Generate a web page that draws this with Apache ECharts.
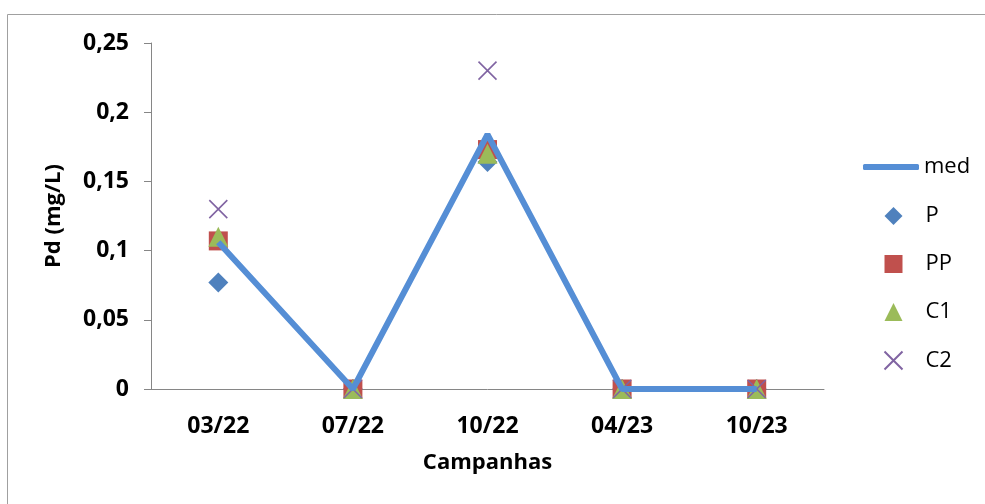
<!DOCTYPE html>
<html>
<head>
<meta charset="utf-8">
<script src="https://cdn.jsdelivr.net/npm/echarts@6/dist/echarts.min.js"></script>
<style>
  html, body { margin: 0; padding: 0; background: #fff; }
  #chart { width: 985px; height: 504px; }
</style>
</head>
<body>
<div id="chart"></div>
<script>
// campanhas (eixo x)
const campanhas = ['03/22', '07/22', '10/22', '04/23', '10/23']
// valores (mg/L)
const medValues = [0.106, 0, 0.184, 0, 0]
const pValues = [0.077, 0, 0.164, 0, 0]
const ppValues = [0.107, 0, 0.173, 0, 0]
const c1Values = [0.11, 0, 0.17, 0, 0]
const c2Values = [0.13, 0, 0.23, 0, 0]

const fontFamily = "'Open Sans', sans-serif"
const axisColor = '#868686'
const crossPath = 'path://M0,0L10,10M10,0L0,10'

const chart = echarts.init(document.getElementById('chart'))

const legendText = {
  fontFamily: fontFamily,
  fontSize: 22,
  lineHeight: 20,
  color: '#000'
}

const option = {
  animation: false,
  textStyle: { fontFamily: fontFamily },
  // moldura do gráfico
  graphic: [
    {
      type: 'rect',
      shape: { x: 7.5, y: 14.5, width: 1100, height: 1000 },
      style: { fill: 'none', stroke: '#a0a0a0', lineWidth: 1 },
      silent: true
    }
  ],
  grid: {
    left: 151,
    right: 161,
    top: 43,
    bottom: 115
  },
  // duas legendas: a linha (larga) e os marcadores (quadrados)
  legend: [
    {
      orient: 'vertical',
      left: 858,
      top: 151,
      itemWidth: 56,
      itemHeight: 6,
      textStyle: legendText,
      data: [{ name: 'med', icon: 'roundRect' }]
    },
    {
      orient: 'vertical',
      left: 877,
      top: 200,
      itemWidth: 18,
      itemHeight: 18,
      itemGap: 26,
      textStyle: Object.assign({ padding: [0, 0, 0, 18] }, legendText),
      data: [
        { name: 'P', icon: 'diamond' },
        { name: 'PP', icon: 'rect' },
        { name: 'C1', icon: 'triangle' },
        { name: 'C2', icon: crossPath }
      ]
    }
  ],
  xAxis: {
    type: 'category',
    data: campanhas,
    name: 'Campanhas',
    nameLocation: 'middle',
    nameGap: 63,
    nameTextStyle: {
      fontFamily: fontFamily,
      fontSize: 22,
      fontWeight: 'bold',
      color: '#000'
    },
    axisLine: { lineStyle: { color: axisColor, width: 1 } },
    axisTick: { length: 7, lineStyle: { color: axisColor } },
    axisLabel: {
      margin: 26,
      fontFamily: fontFamily,
      fontSize: 23,
      fontWeight: 'bold',
      color: '#000'
    }
  },
  yAxis: {
    type: 'value',
    min: 0,
    max: 0.25,
    interval: 0.05,
    name: 'Pd (mg/L)',
    nameLocation: 'middle',
    nameGap: 86,
    nameTextStyle: {
      fontFamily: fontFamily,
      fontSize: 22,
      fontWeight: 'bold',
      color: '#000'
    },
    axisLine: { show: true, lineStyle: { color: axisColor, width: 1 } },
    axisTick: { show: true, length: 7, lineStyle: { color: axisColor } },
    splitLine: { show: false },
    axisLabel: {
      margin: 22,
      fontFamily: fontFamily,
      fontSize: 23,
      fontWeight: 'bold',
      color: '#000',
      formatter: (v) => String(Math.round(v * 100) / 100).replace('.', ',')
    }
  },
  series: [
    {
      name: 'med',
      type: 'line',
      data: medValues,
      symbol: 'none',
      lineStyle: { color: '#558ED5', width: 6 },
      itemStyle: { color: '#558ED5' }
    },
    {
      name: 'P',
      type: 'scatter',
      data: pValues,
      symbol: 'diamond',
      symbolSize: 20,
      itemStyle: { color: '#4F81BD', opacity: 1 }
    },
    {
      name: 'PP',
      type: 'scatter',
      data: ppValues,
      symbol: 'rect',
      symbolSize: 19,
      itemStyle: { color: '#C0504D', opacity: 1 }
    },
    {
      name: 'C1',
      type: 'scatter',
      data: c1Values,
      symbol: 'triangle',
      symbolSize: [20, 20],
      itemStyle: { color: '#9BBB59', opacity: 1 }
    },
    {
      name: 'C2',
      type: 'scatter',
      data: c2Values,
      symbol: crossPath,
      symbolSize: 18,
      itemStyle: { color: 'none', borderColor: '#8064A2', borderWidth: 1.6, opacity: 1 }
    }
  ]
}

chart.setOption(option)
</script>
</body>
</html>
